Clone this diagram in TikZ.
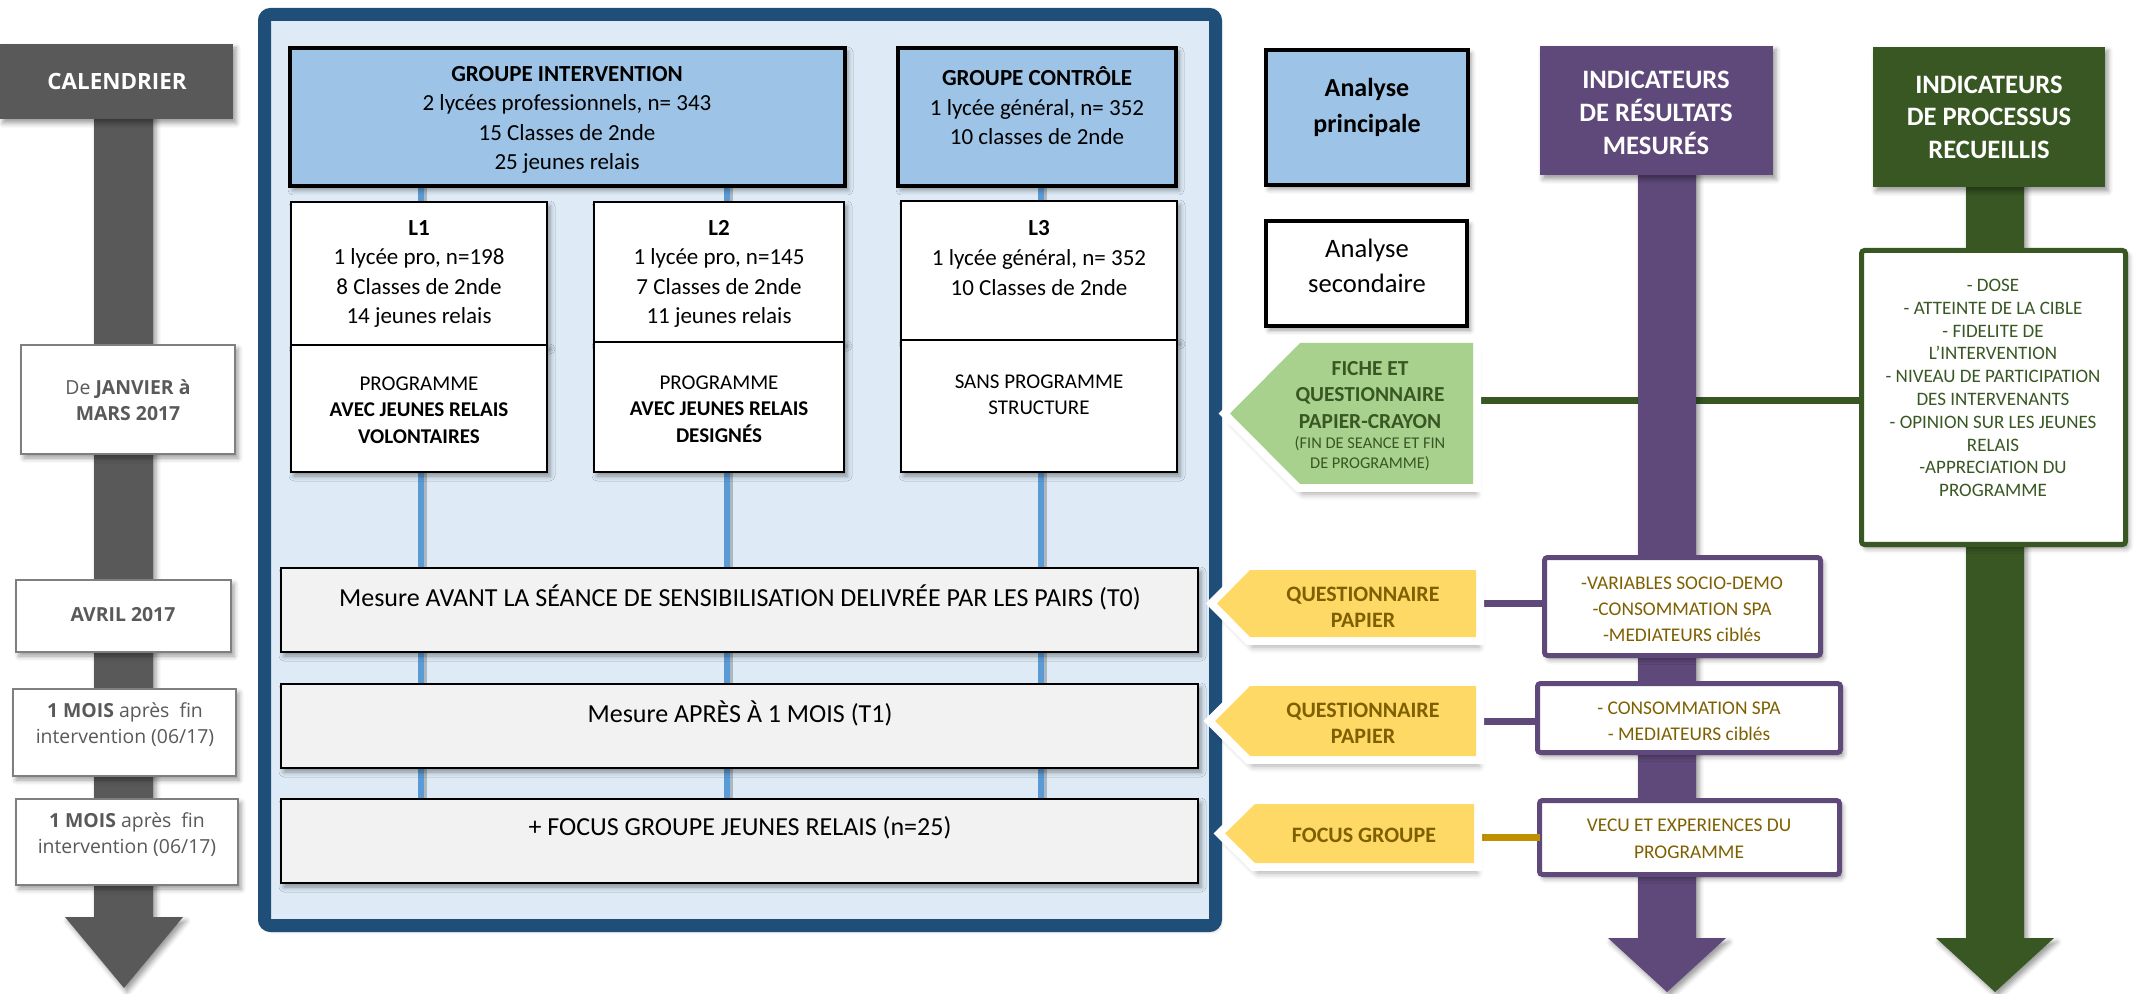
\documentclass[tikz,border=0pt]{standalone}
\usepackage{fontspec}
\setmainfont{Carlito}
\newfontfamily\osans{Open Sans}
\usetikzlibrary{fit,calc,shadows.blur}
\definecolor{calgray}{HTML}{595959}
\definecolor{calbd}{HTML}{7F7F7F}
\definecolor{framebd}{HTML}{1F4E79}
\definecolor{framebg}{HTML}{DEEBF7}
\definecolor{grpblue}{HTML}{9DC3E6}
\definecolor{vblue}{HTML}{5B9BD5}
\definecolor{measgray}{HTML}{F2F2F2}
\definecolor{purp}{HTML}{5F497A}
\definecolor{dgreen}{HTML}{385723}
\definecolor{lgreen}{HTML}{A9D18E}
\definecolor{yel}{HTML}{FFD966}
\definecolor{goldtxt}{HTML}{7F6000}
\definecolor{goldline}{HTML}{BF9000}
\newcommand\fsz[2]{\fontsize{#1}{#2}\selectfont}
\tikzset{
 shd/.style={blur shadow={shadow xshift=1.5pt,shadow yshift=-2pt,shadow blur radius=2.5pt,shadow opacity=40}},
 box/.style={inner sep=0pt, outer sep=0pt},
 grpbox/.style={box, draw=black, line width=2pt, fill=grpblue, shd},
 lbox/.style={box, draw=black, line width=1.3pt, fill=white, shd},
 measbox/.style={box, draw=black, line width=1.4pt, fill=measgray, shd},
 calbox/.style={box, draw=calbd, line width=1pt, fill=white, shd},
 purpbox/.style={box, draw=purp, line width=2.5pt, fill=white, rounded corners=1.5pt, shd},
 procbox/.style={box, draw=dgreen, line width=2.5pt, fill=white, rounded corners=1.5pt, shd},
 anbox/.style={box, draw=black, line width=2pt, shd},
 hdr/.style={box, shd},
 pent/.style={blur shadow={shadow xshift=1.5pt,shadow yshift=-5pt,shadow blur radius=3pt,shadow opacity=35}, preaction={draw=white,line width=8pt,line join=miter}},
 txt/.style={inner sep=0pt, align=center},
 caltxt/.style={txt, text=calgray, font=\osans\fsz{9.7}{13}},
 vline/.style={draw=vblue, line width=3pt},
 vshadow/.style={draw=black, opacity=0.22, line width=3pt},
 conn/.style={line width=3.5pt},
 bigarrow/.style={blur shadow={shadow xshift=1.5pt,shadow yshift=-2pt,shadow blur radius=2.5pt,shadow opacity=40}},
}
\begin{document}
\begin{tikzpicture}[x=0.5pt,y=-0.5pt]
\useasboundingbox (0,0) rectangle (2137,994);

% ---------- blue frame ----------
\node[box, draw=framebd, line width=6.5pt, fill=framebg, rounded corners=3pt, shd, fit={(264.5,14.5)(1215.5,925.5)}] (frame) {};

% ---------- vertical blue lines (behind the boxes) ----------
\coordinate (v1a) at (421,187); \coordinate (v1b) at (421,799);
\coordinate (v2a) at (727,187); \coordinate (v2b) at (727,799);
\coordinate (v3a) at (1041,187); \coordinate (v3b) at (1041,799);
\draw[vshadow] ([xshift=1.6pt]v1a) -- ([xshift=1.6pt]v1b);
\draw[vshadow] ([xshift=1.6pt]v2a) -- ([xshift=1.6pt]v2b);
\draw[vshadow] ([xshift=1.6pt]v3a) -- ([xshift=1.6pt]v3b);
\draw[vline] (v1a) -- (v1b);
\draw[vline] (v2a) -- (v2b);
\draw[vline] (v3a) -- (v3b);

% ---------- calendar arrow ----------
\fill[calgray, bigarrow] (94,100) -- (153,100) -- (153,917) -- (183,917) -- (124,988) -- (65,917) -- (94,917) -- cycle;

% ---------- calendar ----------
\node[hdr, fill=calgray, fit={(0,44)(233,119)}] (calh) {};
\node[txt, text=white, font=\osans\bfseries\fsz{11.2}{14}] (calhT) at (117,82) {CALENDRIER};
\node[calbox, fit={(21,345)(235,454)}] (cal1) {};
\node[caltxt] (cal1T) at (128,400) {De \textbf{JANVIER à}\\\textbf{MARS 2017}};
\node[calbox, fit={(16,580)(231,652)}] (cal2) {};
\node[caltxt] (cal2T) at (123,615) {\textbf{AVRIL 2017}};
\node[calbox, fit={(13,689)(236,776)}] (cal3) {};
\node[caltxt] (cal3T) at (125,725) {\textbf{1 MOIS} après\ \ fin\\intervention (06/17)};
\node[calbox, fit={(16,799)(238,885)}] (cal4) {};
\node[caltxt] (cal4T) at (127,835) {\textbf{1 MOIS} après\ \ fin\\intervention (06/17)};

% ---------- groups ----------
\node[grpbox, fit={(290,48)(845,186)}] (gi) {};
\node[txt, font=\fsz{11.5}{14.7}] (giT) at (567,120) {\textbf{GROUPE INTERVENTION}\\2 lycées professionnels, n= 343\\15 Classes de 2nde\\25 jeunes relais};
\node[grpbox, fit={(898,48)(1176,186)}] (gc) {};
\node[txt, font=\fsz{11.5}{14.7}] (gcT) at (1037,106) {\textbf{GROUPE CONTRÔLE}\\1 lycée général, n= 352\\10 classes de 2nde};

\node[lbox, fit={(291,202)(547,345)}] (l1t) {};
\node[lbox, fit={(291,345)(547,472)}] (l1b) {};
\node[lbox, fit={(594,202)(844,342)}] (l2t) {};
\node[lbox, fit={(594,342)(844,472)}] (l2b) {};
\node[lbox, fit={(901,201)(1177,340)}] (l3t) {};
\node[lbox, fit={(901,340)(1177,472)}] (l3b) {};
\node[txt, font=\fsz{11.5}{14.8}] (l1tT) at (419,274) {\textbf{L1}\\1 lycée pro, n=198\\8 Classes de 2nde\\14 jeunes relais};
\node[txt, font=\fsz{11.5}{14.8}] (l2tT) at (719,274) {\textbf{L2}\\1 lycée pro, n=145\\7 Classes de 2nde\\11 jeunes relais};
\node[txt, font=\fsz{11.5}{14.8}] (l3tT) at (1039,258) {\textbf{L3}\\1 lycée général, n= 352\\10 Classes de 2nde};
\node[txt, font=\fsz{10.5}{13.2}] (l1bT) at (419,410) {PROGRAMME\\\textbf{AVEC JEUNES RELAIS}\\\textbf{VOLONTAIRES}};
\node[txt, font=\fsz{10.5}{13.2}] (l2bT) at (719,409) {PROGRAMME\\\textbf{AVEC JEUNES RELAIS}\\\textbf{DESIGNÉS}};
\node[txt, font=\fsz{10.5}{13.2}] (l3bT) at (1039,395) {SANS PROGRAMME\\STRUCTURE};

\node[measbox, fit={(281,568)(1198,652)}] (t0) {};
\node[txt, font=\fsz{13}{16}] (t0T) at (740,597) {Mesure AVANT LA SÉANCE DE SENSIBILISATION DELIVRÉE PAR LES PAIRS (T0)};
\node[measbox, fit={(281,684)(1198,768)}] (t1) {};
\node[txt, font=\fsz{13}{16}] (t1T) at (740,713) {Mesure APRÈS À 1 MOIS (T1)};
\node[measbox, fit={(281,799)(1198,883)}] (foc) {};
\node[txt, font=\fsz{13}{16}] (focT) at (740,828) {+ FOCUS GROUPE JEUNES RELAIS (n=25)};

% ---------- analyses ----------
\node[anbox, fill=grpblue, fit={(1266,50)(1468,185)}] (ap) {};
\node[txt, font=\bfseries\fsz{13}{18}] (apT) at (1367,107) {Analyse\\principale};
\node[anbox, fill=white, fit={(1266,221)(1467,326)}] (as) {};
\node[txt, font=\fsz{13.3}{17.5}] (asT) at (1367,266) {Analyse\\secondaire};

% ---------- green arrow, process header and box ----------
\fill[dgreen, bigarrow] (1966,170) -- (2024,170) -- (2024,938) -- (2054,938) -- (1995,992) -- (1936,938) -- (1966,938) -- cycle;
\node[hdr, fill=dgreen, fit={(1873,47)(2105,187)}] (gh) {};
\node[txt, text=white, font=\bfseries\fsz{13.3}{16.2}] (ghT) at (1989,117) {INDICATEURS\\DE PROCESSUS\\RECUEILLIS};
\node[procbox, fit={(1861.5,250.5)(2125.5,544.5)}] (proc) {};
\node[txt, text=dgreen, font=\fsz{9.5}{11.4}] (procT) at (1993,388) {- DOSE\\- ATTEINTE DE LA CIBLE\\- FIDELITE DE\\L’INTERVENTION\\- NIVEAU DE PARTICIPATION\\DES INTERVENANTS\\- OPINION SUR LES JEUNES\\RELAIS\\-APPRECIATION DU\\PROGRAMME};

% ---------- green pentagon and its connector ----------
\node[box, fit={(1300,343)(1473,484)}] (gp) {};
\coordinate (gl) at ($(gp.east)+(0,-13)$);
\draw[conn, draw=dgreen] (gl) -- (gl -| proc.west);
\path[pent, fill=lgreen] (gp.north west) -- (gp.north east) -- (gp.south east) -- (gp.south west) -- ($(gp.west)+(-70,0)$) -- cycle;
\node[txt, text=dgreen, font=\bfseries\fsz{10.7}{13.4}] (gpT) at (1370,395) {FICHE ET\\QUESTIONNAIRE\\PAPIER-CRAYON};
\node[txt, text=dgreen, font=\fsz{8.2}{10}] (gpS) at (1370,454) {(FIN DE SEANCE ET FIN\\DE PROGRAMME)};

% ---------- purple arrow and header (over the green connector) ----------
\fill[purp, bigarrow] (1638,160) -- (1696,160) -- (1696,938) -- (1726,938) -- (1667,992) -- (1608,938) -- (1638,938) -- cycle;
\node[hdr, fill=purp, fit={(1540,46)(1773,175)}] (ph) {};
\node[txt, text=white, font=\bfseries\fsz{13.3}{16.5}] (phT) at (1656,113) {INDICATEURS\\DE RÉSULTATS\\MESURÉS};

% ---------- yellow pentagons ----------
\node[box, fit={(1250,570)(1476,637)}] (y1) {};
\node[box, fit={(1250,686)(1476,756)}] (y2) {};
\node[box, fit={(1255,804)(1474,863)}] (y3) {};

% ---------- outcome boxes ----------
\node[purpbox, fit={(1544.5,557.5)(1820.5,655.5)}] (pb1) {};
\node[purpbox, fit={(1537.5,683.5)(1840.5,752.5)}] (pb2) {};
\node[purpbox, fit={(1539.5,800.5)(1839.5,874.5)}] (pb3) {};

\draw[conn, draw=purp] (y1.east) -- (y1.east -| pb1.west);
\draw[conn, draw=purp] (y2.east) -- (y2.east -| pb2.west);
\draw[conn, draw=goldline] (pb3.west -| y3.east) -- (pb3.west);

\path[pent, fill=yel] (y1.north west) -- (y1.north east) -- (y1.south east) -- (y1.south west) -- ($(y1.west)+(-33,0)$) -- cycle;
\node[txt, text=goldtxt, font=\bfseries\fsz{11}{13}] (y1T) at (1363,607) {QUESTIONNAIRE\\PAPIER};
\path[pent, fill=yel] (y2.north west) -- (y2.north east) -- (y2.south east) -- (y2.south west) -- ($(y2.west)+(-35,0)$) -- cycle;
\node[txt, text=goldtxt, font=\bfseries\fsz{11}{13}] (y2T) at (1363,723) {QUESTIONNAIRE\\PAPIER};
\path[pent, fill=yel] (y3.north west) -- (y3.north east) -- (y3.south east) -- (y3.south west) -- ($(y3.west)+(-30,0)$) -- cycle;
\node[txt, text=goldtxt, font=\bfseries\fsz{11}{13}] (y3T) at (1364,835) {FOCUS GROUPE};

\node[txt, text=goldtxt, font=\fsz{9.7}{13}] (pb1T) at (1682,609) {-VARIABLES SOCIO-DEMO\\-CONSOMMATION SPA\\-MEDIATEURS ciblés};
\node[txt, text=goldtxt, font=\fsz{9.7}{13}] (pb2T) at (1689,721) {- CONSOMMATION SPA\\- MEDIATEURS ciblés};
\node[txt, text=goldtxt, font=\fsz{9.7}{13.5}] (pb3T) at (1689,839) {VECU ET EXPERIENCES DU\\PROGRAMME};
\end{tikzpicture}
\end{document}
